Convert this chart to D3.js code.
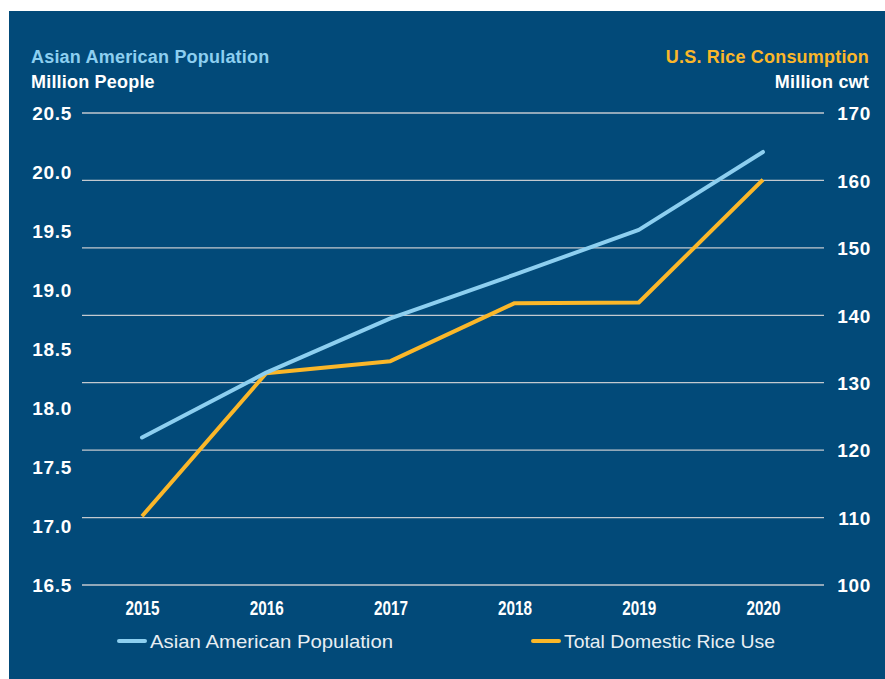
<!DOCTYPE html>
<html>
<head>
<meta charset="utf-8">
<script src="https://cdn.jsdelivr.net/npm/d3@7"></script>
<style>
  html, body { margin: 0; padding: 0; background: #ffffff; }
  svg { display: block; }
</style>
</head>
<body>
<div id="chart"></div>
<script>
// ---- data ----
const years = ["2015", "2016", "2017", "2018", "2019", "2020"];
const asianPopulation = [17.75, 18.30, 18.76, 19.13, 19.51, 20.17];   // million people
const riceUse = [110.2, 131.4, 133.2, 141.8, 141.9, 160.1];           // million cwt
const leftTicks = [16.5, 17.0, 17.5, 18.0, 18.5, 19.0, 19.5, 20.0, 20.5];
const rightTicks = [100, 110, 120, 130, 140, 150, 160, 170];
const seriesNames = ["Asian American Population", "Total Domestic Rice Use"];

const W = 885, H = 679;
const BG = "#024a79", BLUE = "#8dcff0", ORANGE = "#fbb729", GRID = "#c3c9cf";
const FONT = "'Liberation Sans', Arial, sans-serif";

const svg = d3.select("#chart").append("svg").attr("width", W).attr("height", H);
svg.append("rect").attr("x", 9).attr("y", 11).attr("width", W - 9).attr("height", H - 11).attr("fill", BG);

const plotTop = 113, plotBottom = 585, gx0 = 82, gx1 = 824;
const x = d3.scalePoint().domain(years).range([142, 763]);
const yL = d3.scaleLinear().domain([16.5, 20.5]).range([plotBottom, plotTop]);
const yR = d3.scaleLinear().domain([100, 170]).range([plotBottom, plotTop]);

// gridlines (right axis)
svg.append("g").selectAll("line").data(rightTicks).join("line")
  .attr("x1", gx0).attr("x2", gx1)
  .attr("y1", d => yR(d)).attr("y2", d => yR(d))
  .attr("stroke", GRID).attr("stroke-width", 1.3);

// left axis labels
const leftAxis = d3.axisLeft(yL).tickValues(leftTicks).tickFormat(d3.format(".1f")).tickSize(0).tickPadding(0);
const gL = svg.append("g").attr("transform", "translate(72,0)").call(leftAxis);
gL.select(".domain").remove();
gL.selectAll("text").attr("fill", "#ffffff").attr("font-family", FONT).attr("font-weight", "bold")
  .attr("font-size", 19).attr("letter-spacing", 0.7).attr("dy", "0.36em").attr("text-anchor", "end");

// right axis labels
const rightAxis = d3.axisRight(yR).tickValues(rightTicks).tickFormat(d3.format("d")).tickSize(0).tickPadding(0);
const gR = svg.append("g").attr("transform", "translate(871,0)").call(rightAxis);
gR.select(".domain").remove();
gR.selectAll("text").attr("fill", "#ffffff").attr("font-family", FONT).attr("font-weight", "bold")
  .attr("font-size", 19).attr("letter-spacing", 0.7).attr("dy", "0.36em").attr("text-anchor", "end");

// x axis labels (condensed)
const xAxis = d3.axisBottom(x).tickSize(0).tickPadding(0);
const gX = svg.append("g").attr("transform", "translate(0,600)").call(xAxis);
gX.select(".domain").remove();
gX.selectAll("text").attr("fill", "#ffffff").attr("font-family", FONT).attr("font-weight", "bold")
  .attr("font-size", 20).attr("dy", "0.76em")
  .attr("textLength", 34).attr("lengthAdjust", "spacingAndGlyphs");

// lines
const lineL = d3.line().x((d, i) => x(years[i])).y(d => yL(d));
const lineR = d3.line().x((d, i) => x(years[i])).y(d => yR(d));
svg.append("path").datum(riceUse).attr("d", lineR).attr("fill", "none")
  .attr("stroke", ORANGE).attr("stroke-width", 4).attr("stroke-linejoin", "round");
svg.append("path").datum(asianPopulation).attr("d", lineL).attr("fill", "none")
  .attr("stroke", BLUE).attr("stroke-width", 4).attr("stroke-linecap", "round").attr("stroke-linejoin", "round");

// titles
svg.append("text").attr("x", 31).attr("y", 62.5).text("Asian American Population")
  .attr("fill", BLUE).attr("font-family", FONT).attr("font-weight", "bold").attr("font-size", 18).attr("letter-spacing", 0.2);
svg.append("text").attr("x", 31).attr("y", 88).text("Million People")
  .attr("fill", "#ffffff").attr("font-family", FONT).attr("font-weight", "bold").attr("font-size", 18).attr("letter-spacing", 0.2);
svg.append("text").attr("x", 869).attr("y", 62.5).attr("text-anchor", "end").text("U.S. Rice Consumption")
  .attr("fill", ORANGE).attr("font-family", FONT).attr("font-weight", "bold").attr("font-size", 18).attr("letter-spacing", 0.2);
svg.append("text").attr("x", 869).attr("y", 88).attr("text-anchor", "end").text("Million cwt")
  .attr("fill", "#ffffff").attr("font-family", FONT).attr("font-weight", "bold").attr("font-size", 18).attr("letter-spacing", 0.2);

// legend
const legendItems = [
  { name: seriesNames[0], color: BLUE, x: 119, w: 243 },
  { name: seriesNames[1], color: ORANGE, x: 533, w: 211 }
];
const lg = svg.append("g").selectAll("g").data(legendItems).join("g")
  .attr("transform", d => `translate(${d.x},641)`);
lg.append("line").attr("x1", 0).attr("x2", 26).attr("y1", 0).attr("y2", 0)
  .attr("stroke", d => d.color).attr("stroke-width", 4).attr("stroke-linecap", "round");
lg.append("text").attr("x", 31).attr("y", 6.5).text(d => d.name)
  .attr("fill", "#e8eef3").attr("font-family", FONT).attr("font-size", 18.5)
  .attr("textLength", d => d.w).attr("lengthAdjust", "spacingAndGlyphs");
</script>
</body>
</html>
